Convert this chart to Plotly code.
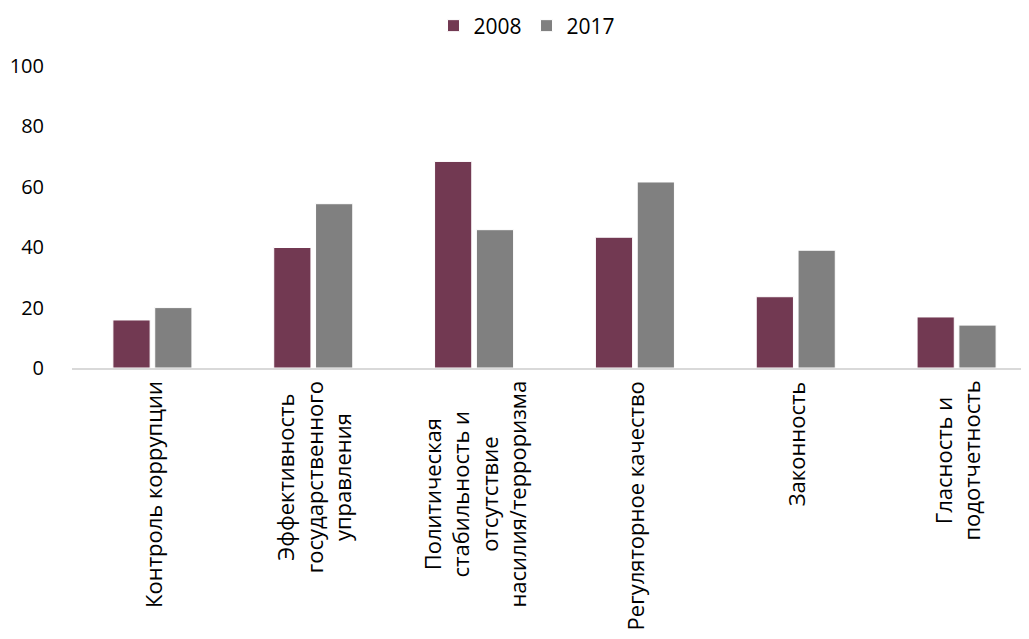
import plotly.graph_objects as go

categories = [
    "Контроль коррупции",
    "Эффективность<br>государственного<br>управления",
    "Политическая<br>стабильность и<br>отсутствие<br>насилия/терроризма",
    "Регуляторное качество",
    "Законность",
    "Гласность и<br>подотчетность",
]
values_2008 = [15.9, 39.9, 68.4, 43.3, 23.6, 16.9]
values_2017 = [20.0, 54.4, 45.8, 61.6, 39.0, 14.2]
y_ticks = [0, 20, 40, 60, 80, 100]

FONT = "Open Sans, Segoe UI, sans-serif"
xpos = list(range(len(categories)))

fig = go.Figure()
fig.add_trace(go.Bar(name="2008", x=xpos, y=values_2008,
                     marker=dict(color="#723952", line=dict(color="white", width=1))))
fig.add_trace(go.Bar(name="2017", x=xpos, y=values_2017,
                     marker=dict(color="#808080", line=dict(color="white", width=1))))

for i, c in enumerate(categories):
    fig.add_annotation(x=i, xref="x", y=0, yref="paper", yanchor="top", xanchor="center",
                       text=c, textangle=-90, showarrow=False, align="center",
                       yshift=-11, font=dict(family=FONT, size=22, color="#000000"))

fig.update_layout(
    width=1029, height=639,
    margin=dict(l=64, r=0, t=58, b=279),
    paper_bgcolor="white", plot_bgcolor="white",
    barmode="group", bargap=0.48, bargroupgap=0.11,
    font=dict(family=FONT, size=20, color="#000000"),
    legend=dict(orientation="h", x=0.4715, xanchor="center", yref="container",
                y=1 - 18 / 639, yanchor="middle", font=dict(size=21),
                itemclick=False),
    xaxis=dict(range=[-0.5, 5.5], showticklabels=False, showgrid=False,
               showline=True, linecolor="#d9d9d9", linewidth=2, ticks="",
               zeroline=False, fixedrange=True),
    yaxis=dict(range=[0, 100], tickvals=y_ticks, showgrid=False, showline=False,
               zeroline=False, ticks="", ticklabelstandoff=27,
               tickfont=dict(size=20), fixedrange=True),
    showlegend=True,
)

fig.write_html("out.html")
